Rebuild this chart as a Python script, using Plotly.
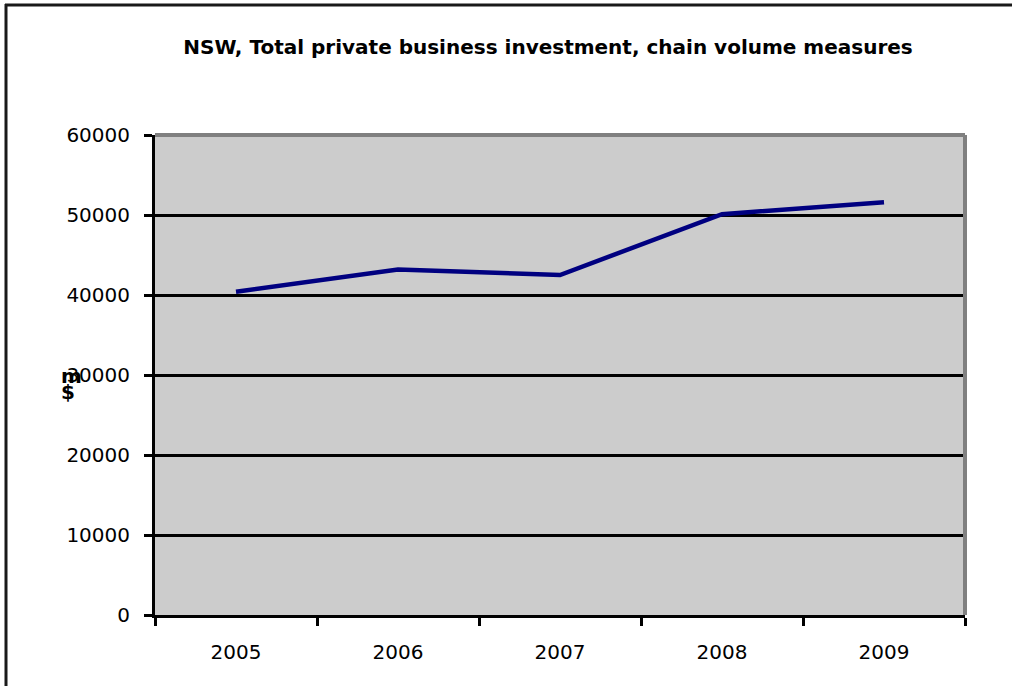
import plotly.graph_objects as go

years = ["2005", "2006", "2007", "2008", "2009"]
investment = [40400, 43200, 42500, 50100, 51600]
y_ticks = [0, 10000, 20000, 30000, 40000, 50000, 60000]

W, H = 1012, 686
L, R, T, B = 155, 965, 135, 615

def px(x):
    return (x - L) / (R - L)

def py(y):
    return (B - y) / (B - T)

fig = go.Figure()
fig.add_trace(go.Scatter(
    x=years, y=investment, mode="lines",
    line=dict(color="#000080", width=4.5),
    hoverinfo="skip", showlegend=False,
))

font = dict(family="DejaVu Sans, Verdana, sans-serif", color="black")

fig.update_layout(
    width=W, height=H,
    margin=dict(l=L, r=W - R, t=T, b=H - B, pad=0),
    paper_bgcolor="white",
    plot_bgcolor="#CCCCCC",
    title=dict(
        text="<b>NSW, Total private business investment, chain volume measures</b>",
        x=548 / W, xanchor="center", xref="container",
        y=1 - 47 / H, yanchor="middle", yref="container",
        font=dict(size=20, **font),
    ),
    xaxis=dict(
        type="category",
        range=[-0.5, len(years) - 0.5],
        tickson="boundaries",
        showgrid=False,
        showline=True, linecolor="black", linewidth=3,
        ticks="outside", ticklen=8, tickwidth=3, tickcolor="black",
        tickfont=dict(size=20, **font),
        ticklabelstandoff=17,
        zeroline=False,
    ),
    yaxis=dict(
        range=[0, 60000],
        tickvals=y_ticks,
        ticktext=[str(v) for v in y_ticks],
        showgrid=True, gridcolor="black", gridwidth=3,
        showline=True, linecolor="black", linewidth=3,
        ticks="outside", ticklen=8, tickwidth=3, tickcolor="black",
        tickfont=dict(size=20, **font),
        ticklabelstandoff=10,
        zeroline=False,
    ),
    shapes=[
        dict(type="line", xref="paper", yref="paper", x0=0, x1=1, y0=1, y1=1,
             line=dict(color="#808080", width=4), layer="above"),
        dict(type="line", xref="paper", yref="paper", x0=1, x1=1, y0=0, y1=1,
             line=dict(color="#808080", width=4), layer="above"),
        dict(type="line", xref="paper", yref="paper", x0=px(6), x1=px(6), y0=py(4), y1=py(720),
             line=dict(color="#1a1a1a", width=3)),
        dict(type="line", xref="paper", yref="paper", x0=px(5), x1=px(1030), y0=py(5), y1=py(5),
             line=dict(color="#1a1a1a", width=3)),
    ],
    annotations=[
        dict(text="<b>m</b>", xref="paper", yref="paper", x=px(71), y=py(376),
             showarrow=False, xanchor="center", yanchor="middle", font=dict(size=20, **font)),
        dict(text="<b>$</b>", xref="paper", yref="paper", x=px(68), y=py(392),
             showarrow=False, xanchor="center", yanchor="middle", font=dict(size=20, **font)),
    ],
)

fig.write_html("out.html")
